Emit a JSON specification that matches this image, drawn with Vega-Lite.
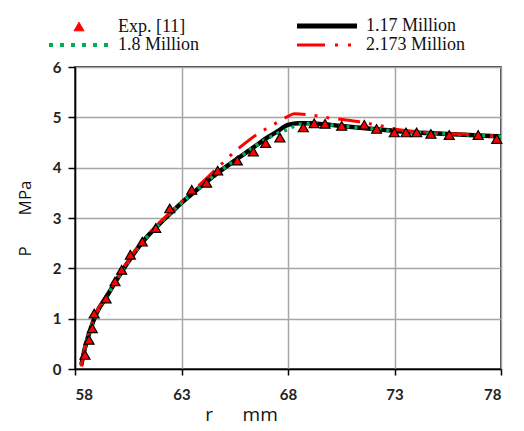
{
  "$schema": "https://vega.github.io/schema/vega-lite/v6.json",
  "width": 426,
  "height": 302,
  "autosize": "none",
  "padding": {"left": 75, "top": 67, "right": 23, "bottom": 62},
  "background": "white",
  "config": {
    "view": {"stroke": "#000", "strokeWidth": 1.5},
    "axis": {
      "domainColor": "#000", "domainWidth": 1.5,
      "tickColor": "#000", "tickWidth": 1.5,
      "gridColor": "#a6a6a6", "gridWidth": 1.5,
      "labelFont": "Lato", "labelFontWeight": "bold", "labelFontSize": 15, "labelColor": "#222",
      "titleFont": "Open Sans", "titleFontWeight": "normal", "titleColor": "#111"
    }
  },
  "datasets": {
    "exp": [
      {"r": 58.47, "P": 0.28}, {"r": 58.66, "P": 0.58}, {"r": 58.81, "P": 0.81}, {"r": 58.9, "P": 1.1},
      {"r": 59.46, "P": 1.4}, {"r": 59.88, "P": 1.74}, {"r": 60.19, "P": 1.97}, {"r": 60.6, "P": 2.27},
      {"r": 61.16, "P": 2.53}, {"r": 61.79, "P": 2.8}, {"r": 62.45, "P": 3.19}, {"r": 63.48, "P": 3.56},
      {"r": 64.18, "P": 3.7}, {"r": 64.7, "P": 3.94}, {"r": 65.62, "P": 4.14}, {"r": 66.37, "P": 4.32},
      {"r": 66.95, "P": 4.49}, {"r": 67.62, "P": 4.6}, {"r": 68.72, "P": 4.8}, {"r": 69.23, "P": 4.88},
      {"r": 69.74, "P": 4.87}, {"r": 70.52, "P": 4.83}, {"r": 71.58, "P": 4.85}, {"r": 72.16, "P": 4.77},
      {"r": 72.99, "P": 4.7}, {"r": 73.54, "P": 4.7}, {"r": 74.04, "P": 4.7}, {"r": 74.71, "P": 4.67},
      {"r": 75.57, "P": 4.65}, {"r": 76.93, "P": 4.65}, {"r": 77.8, "P": 4.57}
    ],
    "black": [
      {"r": 58.3, "P": 0.08}, {"r": 58.4, "P": 0.3}, {"r": 58.55, "P": 0.55}, {"r": 58.75, "P": 0.82},
      {"r": 59, "P": 1.1}, {"r": 59.5, "P": 1.45}, {"r": 60, "P": 1.8}, {"r": 60.5, "P": 2.13},
      {"r": 61, "P": 2.43}, {"r": 61.5, "P": 2.68}, {"r": 62, "P": 2.9}, {"r": 62.5, "P": 3.1},
      {"r": 63, "P": 3.3}, {"r": 63.5, "P": 3.48}, {"r": 64, "P": 3.66}, {"r": 64.5, "P": 3.83},
      {"r": 65, "P": 3.99}, {"r": 65.5, "P": 4.14}, {"r": 66, "P": 4.29}, {"r": 66.5, "P": 4.44},
      {"r": 67, "P": 4.59}, {"r": 67.5, "P": 4.72}, {"r": 68, "P": 4.85}, {"r": 68.5, "P": 4.88},
      {"r": 69, "P": 4.88}, {"r": 69.5, "P": 4.87}, {"r": 70, "P": 4.85}, {"r": 71, "P": 4.81},
      {"r": 72, "P": 4.77}, {"r": 73, "P": 4.73}, {"r": 74, "P": 4.7}, {"r": 75, "P": 4.68},
      {"r": 76, "P": 4.66}, {"r": 77, "P": 4.64}, {"r": 78, "P": 4.62}
    ],
    "green": [
      {"r": 58.3, "P": 0.08}, {"r": 58.4, "P": 0.3}, {"r": 58.55, "P": 0.55}, {"r": 58.75, "P": 0.82},
      {"r": 59, "P": 1.1}, {"r": 59.5, "P": 1.45}, {"r": 60, "P": 1.8}, {"r": 60.5, "P": 2.13},
      {"r": 61, "P": 2.43}, {"r": 61.5, "P": 2.68}, {"r": 62, "P": 2.9}, {"r": 62.5, "P": 3.1},
      {"r": 63, "P": 3.3}, {"r": 63.5, "P": 3.48}, {"r": 64, "P": 3.66}, {"r": 64.5, "P": 3.83},
      {"r": 65, "P": 3.99}, {"r": 65.5, "P": 4.14}, {"r": 66, "P": 4.29}, {"r": 66.5, "P": 4.44},
      {"r": 67, "P": 4.57}, {"r": 67.5, "P": 4.68}, {"r": 68, "P": 4.76}, {"r": 68.5, "P": 4.86},
      {"r": 69, "P": 4.88}, {"r": 69.5, "P": 4.87}, {"r": 70, "P": 4.85}, {"r": 71, "P": 4.81},
      {"r": 72, "P": 4.77}, {"r": 73, "P": 4.73}, {"r": 74, "P": 4.7}, {"r": 75, "P": 4.68},
      {"r": 76, "P": 4.66}, {"r": 77, "P": 4.64}, {"r": 78, "P": 4.62}
    ],
    "red": [
      {"r": 58.3, "P": 0.05}, {"r": 58.4, "P": 0.3}, {"r": 58.55, "P": 0.56}, {"r": 58.75, "P": 0.84},
      {"r": 59, "P": 1.12}, {"r": 59.5, "P": 1.47}, {"r": 60, "P": 1.82}, {"r": 60.5, "P": 2.15},
      {"r": 61, "P": 2.45}, {"r": 61.5, "P": 2.7}, {"r": 62, "P": 2.92}, {"r": 62.5, "P": 3.12},
      {"r": 63, "P": 3.32}, {"r": 63.5, "P": 3.52}, {"r": 64, "P": 3.72}, {"r": 64.5, "P": 3.92},
      {"r": 65, "P": 4.12}, {"r": 65.5, "P": 4.32}, {"r": 66, "P": 4.49}, {"r": 66.5, "P": 4.65},
      {"r": 67, "P": 4.78}, {"r": 67.5, "P": 4.9}, {"r": 68, "P": 5.02}, {"r": 68.3, "P": 5.07},
      {"r": 69, "P": 5.05}, {"r": 69.5, "P": 5.02}, {"r": 70, "P": 4.98}, {"r": 70.5, "P": 4.96},
      {"r": 71, "P": 4.93}, {"r": 71.5, "P": 4.9}, {"r": 72, "P": 4.86}, {"r": 72.5, "P": 4.82},
      {"r": 73, "P": 4.77}, {"r": 73.5, "P": 4.74}, {"r": 74, "P": 4.72}, {"r": 75, "P": 4.69},
      {"r": 76, "P": 4.67}, {"r": 77, "P": 4.65}, {"r": 78, "P": 4.62}
    ]
  },
  "encoding": {
    "x": {
      "field": "r", "type": "quantitative",
      "scale": {"domain": [58, 78], "nice": false, "zero": false},
      "axis": {
        "values": [58, 63, 68, 73, 78], "tickSize": 6, "labelPadding": 12,
        "title": "r\u00a0\u00a0\u00a0\u00a0\u00a0\u00a0mm", "titleFontSize": 19, "titleX": 166, "titlePadding": 3
      }
    },
    "y": {
      "field": "P", "type": "quantitative",
      "scale": {"domain": [0, 6], "nice": false},
      "axis": {
        "values": [0, 1, 2, 3, 4, 5, 6], "tickSize": 7, "labelPadding": 7,
        "title": "P\u00a0\u00a0\u00a0\u00a0\u00a0\u00a0\u00a0MPa", "titleFontSize": 17, "titlePadding": 18
      }
    },
    "color": {
      "field": "series", "type": "nominal",
      "scale": {
        "domain": ["Exp. [11]", "1.8 Million", "1.17 Million", "2.173 Million"],
        "range": ["#ff0000", "#00b050", "#000000", "#ff0000"]
      },
      "legend": {
        "title": null, "orient": "none", "legendX": -5, "legendY": -50,
        "columns": 2, "columnPadding": 87, "rowPadding": 0, "padding": 0,
        "symbolType": "M-3,0H3", "symbolSize": 400, "labelOffset": 30,
        "labelFont": "Liberation Serif", "labelFontSize": 18, "labelColor": "#111",
        "encode": {
          "symbols": {
            "update": {
              "shape": {"signal": "datum.value === 'Exp. [11]' ? 'triangle-up' : 'M-3,0H3'"},
              "size": {"signal": "datum.value === 'Exp. [11]' ? 100 : 400"},
              "fill": {"signal": "datum.value === 'Exp. [11]' ? '#ff0000' : 'transparent'"},
              "stroke": {"signal": "datum.value === 'Exp. [11]' ? '#000000' : datum.value === '1.17 Million' ? '#000000' : datum.value === '1.8 Million' ? '#00b050' : '#ff0000'"},
              "strokeWidth": {"signal": "datum.value === 'Exp. [11]' ? 1 : datum.value === '1.17 Million' ? 5 : datum.value === '1.8 Million' ? 4 : 3"},
              "strokeDash": {"signal": "datum.value === '1.8 Million' ? [4, 7] : datum.value === '2.173 Million' ? [28, 10, 3, 10, 3, 10] : [1, 0]"},
              "opacity": {"value": 1}
            }
          }
        }
      }
    }
  },
  "layer": [
    {
      "data": {"name": "black"},
      "transform": [{"calculate": "'1.17 Million'", "as": "series"}],
      "mark": {"type": "line", "strokeWidth": 4.5, "interpolate": "monotone"}
    },
    {
      "data": {"name": "green"},
      "transform": [{"calculate": "'1.8 Million'", "as": "series"}],
      "mark": {"type": "line", "strokeWidth": 3.5, "strokeDash": [3, 5], "interpolate": "monotone"}
    },
    {
      "data": {"name": "red"},
      "transform": [{"calculate": "'2.173 Million'", "as": "series"}],
      "mark": {"type": "line", "strokeWidth": 3, "strokeDash": [22, 9, 3, 9, 3, 9], "interpolate": "monotone"}
    },
    {
      "data": {"name": "exp"},
      "transform": [{"calculate": "'Exp. [11]'", "as": "series"}],
      "mark": {"type": "point", "shape": "triangle-up", "filled": true, "size": 100, "stroke": "#000", "strokeWidth": 1.2, "opacity": 1}
    }
  ]
}
